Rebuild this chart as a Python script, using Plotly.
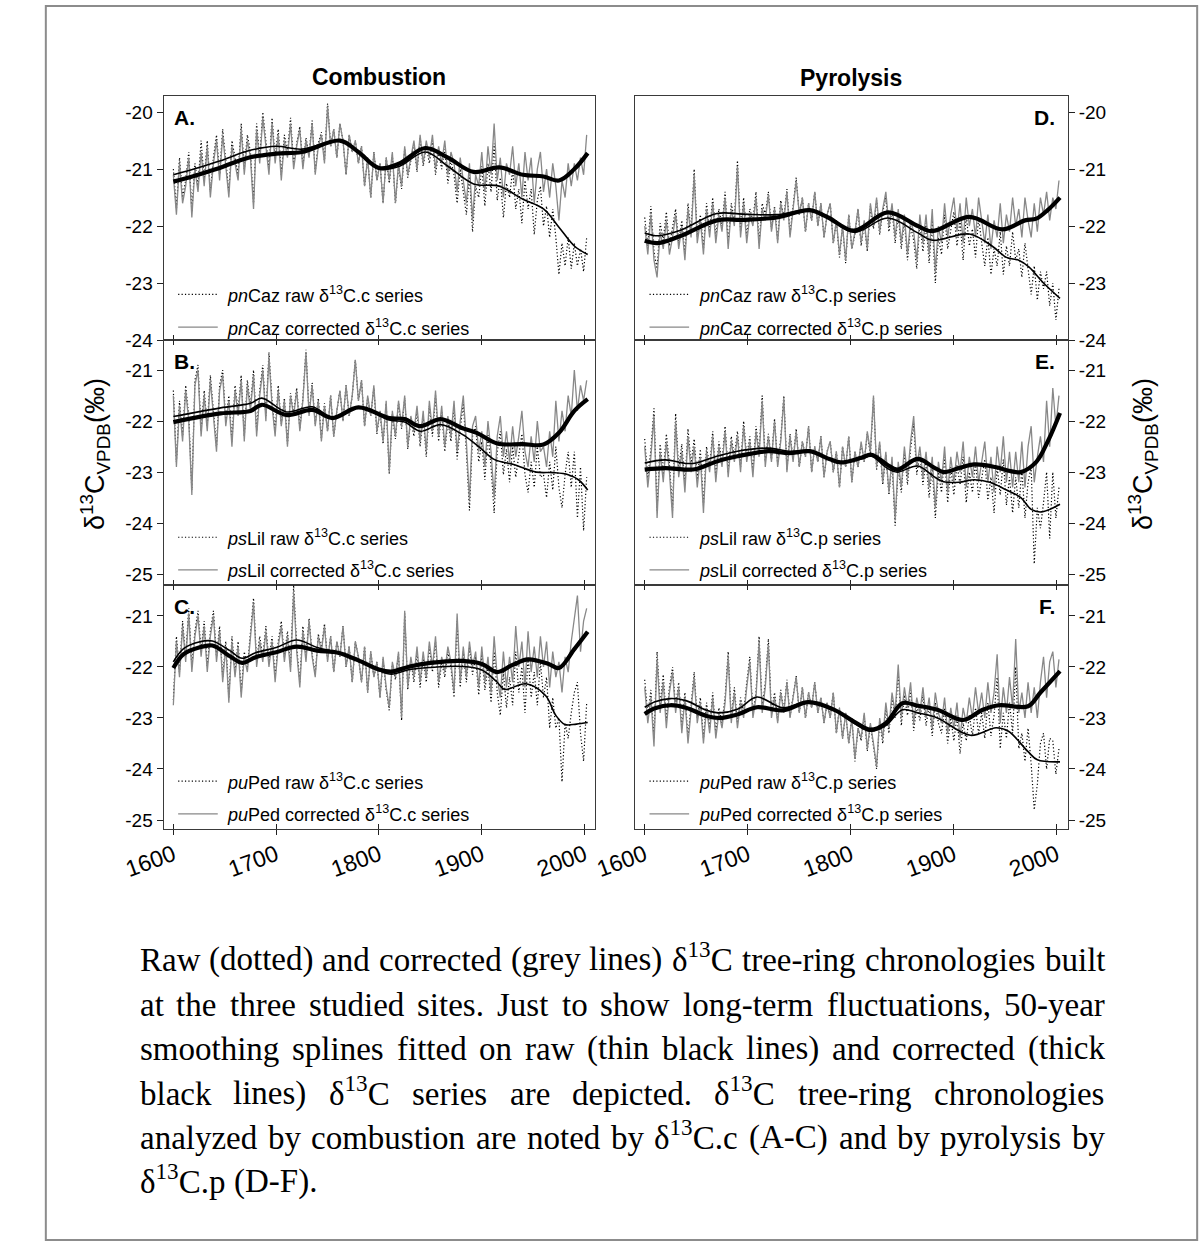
import plotly.graph_objects as go

W, H = 1202, 1257
SANS = "Liberation Sans, Arial, Helvetica, sans-serif"
SERIF = "Liberation Serif, Times New Roman, serif"

# Sampled years of the tree-ring chronologies
YEARS = list(range(1600, 2003, 3))

# ---------------- A: pnCaz, combustion ----------------
A_CORR = [
    -21.1, -21.8, -20.9, -21.6, -21.3, -20.8, -21.85, -21.0, -21.4, -20.7,
    -21.3, -20.6, -21.5, -20.9, -20.5, -21.2, -20.4, -21.0, -21.5, -20.6,
    -20.9, -21.2, -20.3, -21.1, -20.5, -20.8, -21.7, -20.3, -20.9, -20.1,
    -20.6, -21.1, -20.2, -20.9, -20.4, -21.2, -20.5, -20.8, -20.2, -21.0,
    -20.6, -20.3, -21.0, -20.5, -20.8, -20.2, -21.1, -20.6, -20.4, -20.9,
    -19.9, -20.6, -20.3, -20.8, -20.2, -20.5, -21.1, -20.4, -20.7, -20.5,
    -20.9, -20.6, -21.3, -20.8, -21.5, -20.7, -21.2, -20.9, -21.6, -20.8,
    -21.2, -20.7, -21.6, -20.9, -21.3, -20.6, -21.1, -20.8, -20.5, -21.0,
    -20.4, -20.9, -20.5, -20.8, -20.4, -21.0, -20.6, -20.9, -20.5, -21.1,
    -20.7, -20.9, -21.4, -20.8, -21.2, -21.6, -20.9, -21.9, -21.1, -21.3,
    -20.7, -21.4, -20.6, -21.1, -20.2, -21.2, -20.8, -21.5, -20.9, -21.1,
    -20.6, -21.3, -20.9, -21.5, -20.7, -21.2, -20.8, -21.6, -21.0, -20.7,
    -21.4, -21.0, -21.5, -20.9, -21.3, -21.9, -21.2, -21.5, -20.9, -21.3,
    -20.9, -21.2, -20.8, -21.1, -20.4,
]
A_RAW = [
    -21.0, -21.7, -20.8, -21.5, -21.2, -20.7, -21.75, -20.9, -21.3, -20.5,
    -21.2, -20.5, -21.4, -20.8, -20.4, -21.1, -20.3, -20.9, -21.4, -20.5,
    -20.8, -21.1, -20.2, -21.0, -20.4, -20.7, -21.6, -20.2, -20.8, -20.0,
    -20.5, -21.0, -20.1, -20.8, -20.3, -21.1, -20.4, -20.7, -20.1, -20.9,
    -20.55, -20.25, -20.95, -20.45, -20.75, -20.15, -21.05, -20.55, -20.35, -20.85,
    -19.85, -20.6, -20.3, -20.8, -20.2, -20.5, -21.1, -20.4, -20.7, -20.5,
    -20.9, -20.6, -21.3, -20.8, -21.5, -20.7, -21.2, -20.9, -21.6, -20.8,
    -21.25, -20.75, -21.6, -20.95, -21.35, -20.65, -21.15, -20.85, -20.55, -21.05,
    -20.45, -20.95, -20.6, -20.9, -20.5, -21.1, -20.7, -21.0, -20.65, -21.25,
    -20.85, -21.1, -21.6, -21.0, -21.4, -21.8, -21.1, -22.1, -21.3, -21.5,
    -20.95, -21.65, -20.9, -21.4, -20.55, -21.55, -21.15, -21.85, -21.25, -21.5,
    -21.0, -21.7, -21.35, -21.95, -21.2, -21.7, -21.35, -22.15, -21.55, -21.3,
    -22.0, -21.65, -22.2, -21.7, -22.2, -22.85, -22.3, -22.7, -22.2, -22.75,
    -22.3, -22.7, -22.4, -22.8, -22.2,
]
A_SC_YR = [1600, 1620, 1645, 1673, 1700, 1725, 1762, 1780, 1800, 1820, 1845, 1867, 1892, 1917, 1940, 1960, 1975, 1990, 2003]
A_SC = [-21.22, -21.12, -20.98, -20.8, -20.73, -20.7, -20.5, -20.7, -20.98, -20.9, -20.63, -20.8, -21.05, -20.97, -21.1, -21.13, -21.2, -21.0, -20.72]
A_SR_YR = [1600, 1620, 1645, 1673, 1700, 1725, 1762, 1780, 1800, 1820, 1845, 1867, 1892, 1917, 1940, 1960, 1975, 1990, 2003]
A_SR = [-21.1, -21.0, -20.86, -20.68, -20.6, -20.65, -20.5, -20.7, -21.0, -20.95, -20.7, -20.95, -21.26, -21.3, -21.53, -21.7, -22.02, -22.35, -22.5]

# ---------------- B: psLil, combustion ----------------
B_CORR = [
    -21.5, -22.9, -21.7, -22.4, -21.4, -22.0, -23.45, -21.3, -21.0, -22.3,
    -21.5, -22.2, -21.2, -21.9, -22.6, -21.4, -21.1, -22.1, -21.6, -22.5,
    -21.4, -21.9, -21.2, -22.4, -21.3, -21.8, -21.1, -22.3, -21.5, -21.0,
    -22.0, -20.75, -21.7, -22.3, -21.4, -22.1, -21.6, -22.5, -21.5, -21.9,
    -21.4, -22.2, -21.6, -20.65, -21.9, -21.3, -22.1, -21.6, -22.4, -21.7,
    -22.2, -21.5, -22.3, -21.8, -21.4, -22.0, -21.3, -21.9, -21.5, -20.8,
    -21.6, -21.2, -22.1, -21.5, -21.9, -21.3, -22.2, -21.8, -22.4, -21.6,
    -23.0, -21.8, -22.3, -21.6, -22.1, -21.5, -22.5, -21.9, -22.2, -21.7,
    -22.4, -21.8, -22.6, -21.6, -22.2, -21.4, -22.3, -21.7, -22.5, -21.9,
    -22.3, -21.6, -22.6, -22.0, -21.5, -22.4, -23.55, -22.1, -21.9, -22.6,
    -22.2, -22.9, -22.0, -22.6, -23.5, -22.3, -21.9, -22.7, -22.2, -22.8,
    -22.1, -22.7, -22.3, -21.8, -22.6, -22.9, -22.3, -22.8, -22.0, -22.6,
    -22.5, -22.9, -22.2, -22.7, -21.6, -22.4, -21.8, -22.2, -21.5, -21.9,
    -21.0, -21.8, -21.3, -21.6, -21.2,
]
B_RAW = [
    -21.4, -22.8, -21.6, -22.3, -21.3, -21.9, -23.35, -21.2, -20.9, -22.2,
    -21.4, -22.1, -21.1, -21.8, -22.5, -21.3, -21.0, -22.0, -21.5, -22.4,
    -21.3, -21.8, -21.1, -22.3, -21.2, -21.7, -21.0, -22.2, -21.4, -20.9,
    -21.9, -20.65, -21.6, -22.2, -21.3, -22.05, -21.55, -22.45, -21.45, -21.85,
    -21.35, -22.15, -21.55, -20.6, -21.85, -21.25, -22.05, -21.55, -22.35, -21.65,
    -22.2, -21.5, -22.3, -21.8, -21.4, -22.0, -21.3, -21.9, -21.5, -20.8,
    -21.6, -21.2, -22.1, -21.55, -21.9, -21.35, -22.25, -21.8, -22.45, -21.65,
    -23.05, -21.85, -22.35, -21.65, -22.15, -21.55, -22.55, -21.95, -22.3, -21.8,
    -22.5, -21.9, -22.7, -21.7, -22.3, -21.5, -22.4, -21.8, -22.6, -22.0,
    -22.4, -21.7, -22.75, -22.15, -21.65, -22.6, -23.75, -22.3, -22.1, -22.8,
    -22.4, -23.15, -22.25, -22.9, -23.8, -22.6, -22.2, -23.05, -22.55, -23.2,
    -22.5, -23.1, -22.7, -22.25, -23.05, -23.4, -22.8, -23.3, -22.5, -23.1,
    -23.05, -23.5, -22.8, -23.35, -22.5, -23.3, -23.7, -23.05, -22.6, -23.3,
    -22.6, -23.9, -22.9, -24.15, -23.1,
]
B_SC_YR = [1600, 1646, 1675, 1686, 1710, 1735, 1755, 1780, 1810, 1825, 1840, 1860, 1880, 1895, 1915, 1940, 1960, 1975, 1990, 2003]
B_SC = [-22.02, -21.85, -21.8, -21.68, -21.88, -21.78, -21.94, -21.73, -21.94, -21.96, -22.1, -21.96, -22.13, -22.23, -22.44, -22.45, -22.46, -22.23, -21.8, -21.57]
B_SR_YR = [1600, 1646, 1675, 1686, 1710, 1735, 1755, 1780, 1810, 1825, 1840, 1860, 1881, 1897, 1912, 1931, 1953, 1969, 1984, 1994, 2003]
B_SR = [-21.91, -21.74, -21.65, -21.55, -21.82, -21.72, -21.93, -21.73, -21.98, -22.02, -22.2, -22.07, -22.26, -22.5, -22.75, -22.85, -23.0, -23.01, -23.05, -23.15, -23.35]

# ---------------- C: puPed, combustion ----------------
C_CORR = [
    -22.75, -21.5, -22.2, -21.2, -21.9, -20.95, -22.1, -21.4, -21.0, -21.8,
    -21.2, -22.1, -21.4, -21.0, -21.9, -21.3, -22.3, -21.6, -22.7, -21.5,
    -22.2, -21.6, -22.6, -21.8, -22.1, -21.4, -20.75, -22.0, -21.5, -21.9,
    -21.3, -22.0, -21.5, -22.3, -21.6, -21.2, -21.9, -21.4, -22.1, -20.55,
    -21.7, -22.4, -21.3, -21.9, -21.1, -21.8, -22.2, -21.4, -21.7, -21.2,
    -21.9, -21.4, -22.1, -21.5, -21.8, -21.2, -22.0, -21.6, -22.3, -21.5,
    -21.8, -22.3, -21.6, -22.5, -21.7, -22.2, -21.9, -22.6, -21.8, -22.4,
    -22.8, -21.9, -22.2, -21.7, -23.0, -20.9, -22.4, -21.8, -22.2, -21.6,
    -22.3, -21.7, -22.2, -21.5, -22.0, -21.4, -22.3, -21.8, -22.1, -21.6,
    -21.9, -22.5, -20.95, -22.3, -21.6, -22.2, -21.5, -22.0, -21.7, -22.4,
    -21.6, -22.3, -21.8, -22.5, -21.4, -22.2, -22.6, -21.7, -22.4, -21.8,
    -22.3, -21.2, -22.0, -21.5, -22.4, -21.3, -22.1, -21.6, -22.2, -21.4,
    -22.0, -21.5, -22.4, -21.7, -22.2, -21.9, -22.5, -21.8, -22.1, -21.5,
    -21.0, -20.6, -21.7, -21.1, -20.85,
]
C_RAW = [
    -22.65, -21.4, -22.1, -21.1, -21.8, -20.85, -22.0, -21.3, -20.9, -21.7,
    -21.1, -22.0, -21.3, -20.9, -21.8, -21.2, -22.2, -21.5, -22.6, -21.4,
    -22.1, -21.5, -22.5, -21.7, -22.0, -21.3, -20.65, -21.9, -21.4, -21.8,
    -21.2, -21.9, -21.4, -22.2, -21.5, -21.1, -21.8, -21.3, -22.0, -20.4,
    -21.6, -22.3, -21.2, -21.8, -21.05, -21.75, -22.15, -21.35, -21.65, -21.15,
    -21.85, -21.4, -22.1, -21.5, -21.8, -21.2, -22.0, -21.6, -22.3, -21.5,
    -21.8, -22.3, -21.6, -22.5, -21.7, -22.2, -21.9, -22.6, -21.85, -22.45,
    -22.85, -21.95, -22.25, -21.75, -23.05, -20.95, -22.45, -21.85, -22.3, -21.7,
    -22.4, -21.8, -22.3, -21.6, -22.1, -21.5, -22.4, -21.9, -22.2, -21.7,
    -22.0, -22.6, -21.1, -22.4, -21.7, -22.3, -21.6, -22.15, -21.8, -22.55,
    -21.75, -22.45, -22.0, -22.7, -21.7, -22.5, -22.95, -22.1, -22.8, -22.2,
    -22.75, -21.7, -22.5, -22.0, -22.9, -21.8, -22.6, -22.1, -22.75, -21.9,
    -22.6, -22.2, -23.2, -22.6, -23.2, -23.0, -24.25, -23.1, -23.4, -22.9,
    -22.5, -22.3, -23.3, -23.85, -22.7,
]
C_SC_YR = [1600, 1610, 1625, 1638, 1655, 1667, 1680, 1700, 1720, 1740, 1760, 1780, 1800, 1812, 1830, 1850, 1880, 1900, 1915, 1930, 1945, 1965, 1975, 1990, 2003]
C_SC = [-22.02, -21.75, -21.62, -21.58, -21.79, -21.92, -21.81, -21.71, -21.6, -21.68, -21.72, -21.87, -22.05, -22.09, -21.99, -21.92, -21.88, -21.94, -22.1, -21.96, -21.85, -21.94, -22.02, -21.65, -21.31]
C_SR_YR = [1600, 1610, 1625, 1638, 1655, 1667, 1680, 1700, 1720, 1740, 1760, 1780, 1800, 1812, 1830, 1850, 1880, 1900, 1915, 1922, 1943, 1962, 1972, 1981, 1992, 2003]
C_SR = [-21.9, -21.64, -21.51, -21.49, -21.68, -21.83, -21.72, -21.62, -21.47, -21.62, -21.72, -21.87, -22.07, -22.14, -22.05, -22.01, -21.99, -22.06, -22.3, -22.44, -22.33, -22.56, -22.95, -23.13, -23.12, -23.09]

# ---------------- D: pnCaz, pyrolysis ----------------
D_CORR = [
    -22.0, -22.5, -21.8, -22.6, -22.9, -22.1, -22.4, -21.9, -22.5, -22.2,
    -21.8, -22.4, -22.0, -22.6, -21.7, -22.2, -21.1, -22.3, -21.9, -22.5,
    -21.7, -22.2, -21.6, -22.3, -21.8, -22.1, -21.5, -22.4, -21.7, -22.0,
    -20.95, -22.2, -21.6, -22.3, -21.8, -22.0, -21.5, -22.4, -21.7, -21.9,
    -21.45, -22.1, -21.7, -22.3, -21.6, -21.9, -21.4, -22.2, -21.7, -21.2,
    -21.8, -21.5, -22.1, -21.6, -21.9, -21.4, -22.0, -21.6, -22.2, -21.8,
    -21.6, -22.3, -21.9, -22.5, -22.0, -22.6, -21.8, -22.4, -22.1, -21.7,
    -22.3, -21.9, -22.4, -21.6, -22.0, -21.5, -22.1, -21.7, -21.4, -22.0,
    -21.6, -22.2, -21.7, -22.3, -21.8, -22.5, -21.9, -22.1, -22.6, -21.8,
    -22.3, -21.8, -22.5, -21.7, -22.8, -22.0, -22.3, -21.6, -22.2, -21.8,
    -21.5, -22.1, -21.6, -22.3, -21.5, -22.0, -21.7, -22.2, -21.5, -21.9,
    -22.3, -21.8, -22.4, -21.9, -22.2, -21.6, -22.3, -21.8, -22.1, -21.5,
    -22.0, -21.7, -22.2, -21.5, -21.9, -22.2, -21.6, -22.1, -21.5, -21.8,
    -21.4, -21.9, -21.5, -21.7, -21.2,
]
D_RAW = [
    -21.85, -22.35, -21.65, -22.45, -22.75, -21.95, -22.25, -21.75, -22.35, -22.05,
    -21.7, -22.3, -21.9, -22.5, -21.6, -22.1, -21.0, -22.2, -21.8, -22.4,
    -21.6, -22.1, -21.5, -22.2, -21.7, -22.0, -21.4, -22.3, -21.6, -21.9,
    -20.85, -22.1, -21.5, -22.2, -21.7, -21.9, -21.4, -22.3, -21.6, -21.8,
    -21.4, -22.05, -21.65, -22.25, -21.55, -21.85, -21.35, -22.15, -21.65, -21.15,
    -21.8, -21.5, -22.1, -21.6, -21.9, -21.4, -22.0, -21.6, -22.2, -21.8,
    -21.6, -22.3, -21.9, -22.55, -22.0, -22.65, -21.8, -22.4, -22.15, -21.7,
    -22.35, -21.95, -22.45, -21.65, -22.05, -21.55, -22.15, -21.75, -21.5, -22.1,
    -21.7, -22.3, -21.8, -22.4, -21.9, -22.6, -22.0, -22.25, -22.75, -21.95,
    -22.45, -21.95, -22.65, -21.9, -23.0, -22.2, -22.5, -21.8, -22.4, -22.05,
    -21.75, -22.35, -21.9, -22.6, -21.8, -22.35, -22.05, -22.55, -21.85, -22.3,
    -22.7, -22.2, -22.85, -22.4, -22.7, -22.1, -22.85, -22.35, -22.7, -22.1,
    -22.6, -22.4, -22.9, -22.3, -22.8, -23.2, -22.7, -23.3, -22.8, -23.1,
    -22.8, -23.4, -23.0, -23.65, -23.1,
]
D_SC_YR = [1600, 1613, 1634, 1670, 1695, 1728, 1760, 1778, 1803, 1836, 1865, 1879, 1915, 1947, 1969, 1980, 1991, 2003]
D_SC = [-22.26, -22.3, -22.18, -21.9, -21.89, -21.85, -21.72, -21.85, -22.08, -21.76, -22.0, -22.09, -21.84, -22.06, -21.9, -21.87, -21.72, -21.5]
D_SR_YR = [1600, 1613, 1634, 1670, 1695, 1728, 1760, 1778, 1803, 1836, 1865, 1879, 1915, 1937, 1951, 1963, 1973, 1987, 2003]
D_SR = [-22.12, -22.17, -22.08, -21.78, -21.79, -21.8, -21.72, -21.86, -22.11, -21.86, -22.12, -22.25, -22.14, -22.35, -22.55, -22.6, -22.72, -23.0, -23.27]

# ---------------- E: psLil, pyrolysis ----------------
E_CORR = [
    -22.5, -23.3, -22.7, -21.9, -23.9, -22.6, -23.2, -22.4, -23.0, -23.9,
    -22.0, -23.1, -22.6, -23.4, -22.3, -23.0, -22.5, -23.3, -22.7, -23.8,
    -22.6, -23.0, -22.3, -23.2, -22.5, -22.9, -22.2, -23.1, -22.4, -22.8,
    -22.3, -23.0, -22.1, -22.8, -22.4, -23.1, -22.2, -22.7, -21.6, -22.9,
    -22.3, -22.8, -22.0, -22.9, -22.4, -21.55, -23.0, -22.3, -22.8, -22.2,
    -22.9, -22.4, -22.7, -22.1, -23.0, -22.5, -22.8, -22.3, -23.1, -22.6,
    -22.4, -23.0, -22.6, -23.3, -22.5, -22.9, -22.3, -23.2, -22.6, -22.9,
    -22.4, -22.8, -22.2, -22.6, -21.5, -22.9, -22.4, -23.2, -22.6, -23.4,
    -22.7, -23.95, -22.8, -23.3, -22.5, -23.1, -22.4, -21.9, -22.9, -22.5,
    -23.1, -22.6, -23.3, -22.7, -23.7, -22.8, -23.2, -22.5, -23.4, -22.7,
    -23.2, -22.6, -23.0, -22.4, -23.3, -22.7, -23.1, -22.5, -23.2, -22.8,
    -22.4, -23.2, -22.7, -23.4, -22.5, -23.0, -22.3, -23.2, -22.6, -23.3,
    -22.6, -23.2, -22.4, -23.3, -22.5, -22.1, -23.2, -22.7, -22.3, -22.8,
    -21.6, -22.5, -21.35, -22.1, -21.5,
]
E_RAW = [
    -22.35, -23.15, -22.55, -21.75, -23.75, -22.45, -23.05, -22.25, -22.85, -23.75,
    -21.85, -22.95, -22.45, -23.25, -22.15, -22.85, -22.35, -23.15, -22.55, -23.65,
    -22.5, -22.9, -22.2, -23.1, -22.4, -22.8, -22.1, -23.0, -22.3, -22.7,
    -22.2, -22.9, -22.0, -22.7, -22.3, -23.0, -22.1, -22.6, -21.5, -22.8,
    -22.25, -22.75, -21.95, -22.85, -22.35, -21.5, -22.95, -22.25, -22.75, -22.15,
    -22.9, -22.4, -22.7, -22.1, -23.0, -22.5, -22.8, -22.3, -23.1, -22.6,
    -22.4, -23.0, -22.6, -23.3, -22.5, -22.9, -22.3, -23.2, -22.6, -22.9,
    -22.45, -22.8, -22.25, -22.65, -21.55, -22.95, -22.45, -23.25, -22.65, -23.45,
    -22.8, -24.05, -22.9, -23.4, -22.6, -23.25, -22.55, -22.05, -23.05, -22.65,
    -23.25, -22.75, -23.5, -22.9, -23.9, -23.0, -23.4, -22.7, -23.6, -22.9,
    -23.45, -22.85, -23.25, -22.7, -23.6, -23.0, -23.4, -22.8, -23.5, -23.1,
    -22.75, -23.55, -23.1, -23.8, -22.9, -23.45, -22.75, -23.65, -23.1, -23.8,
    -23.1, -23.7, -22.95, -23.9, -23.2, -22.9, -24.8, -23.7, -24.1, -23.6,
    -23.0, -24.3, -23.0, -23.9, -23.3,
]
E_SC_YR = [1600, 1620, 1640, 1650, 1670, 1690, 1720, 1740, 1760, 1780, 1790, 1810, 1820, 1835, 1845, 1865, 1880, 1890, 1905, 1920, 1940, 1955, 1965, 1980, 1992, 2003]
E_SC = [-22.95, -22.92, -22.95, -22.94, -22.79, -22.69, -22.59, -22.63, -22.59, -22.75, -22.81, -22.72, -22.66, -22.85, -22.95, -22.74, -22.9, -23.0, -22.92, -22.85, -22.9, -22.98, -23.0, -22.8, -22.36, -21.84]
E_SR_YR = [1600, 1620, 1640, 1650, 1670, 1690, 1720, 1740, 1760, 1780, 1790, 1810, 1820, 1835, 1845, 1865, 1880, 1890, 1905, 1920, 1935, 1950, 1965, 1975, 1985, 2003]
E_SR = [-22.82, -22.76, -22.83, -22.82, -22.69, -22.59, -22.53, -22.59, -22.59, -22.76, -22.82, -22.74, -22.69, -22.92, -23.0, -22.88, -23.08, -23.19, -23.2, -23.15, -23.2, -23.34, -23.5, -23.73, -23.78, -23.63]

# ---------------- F: puPed, pyrolysis ----------------
F_CORR = [
    -22.4, -23.1, -22.6, -23.56, -21.85, -22.9, -22.3, -23.2, -22.5, -22.1,
    -22.9, -22.4, -23.3, -22.6, -23.5, -22.8, -22.2, -23.1, -22.7, -23.5,
    -22.8, -23.3, -22.6, -23.4, -22.9, -23.2, -22.7, -21.8, -23.1, -22.5,
    -23.2, -22.7, -23.0, -22.4, -21.9, -23.0, -22.6, -21.52, -22.9, -22.4,
    -21.55, -23.0, -22.6, -23.1, -22.5, -22.9, -22.3, -23.0, -22.6, -22.2,
    -22.9, -22.4, -23.0, -22.5, -22.8, -22.3, -22.9, -22.6, -23.1, -22.7,
    -23.0, -22.5, -23.3, -22.8, -23.4, -22.9, -23.5, -23.0, -23.8, -23.2,
    -23.4, -22.9, -23.6, -23.1, -23.5, -23.95, -23.0, -23.4, -22.7, -23.2,
    -22.5, -22.9, -21.95, -23.0, -22.4, -22.8, -22.3, -23.1, -22.6, -22.9,
    -22.4, -23.0, -22.6, -23.2, -22.5, -22.9, -23.1, -22.6, -23.3, -22.8,
    -23.2, -22.7, -23.4, -22.8, -23.1, -22.6, -23.0, -22.4, -22.9, -22.5,
    -23.0, -22.3, -22.9, -22.5, -21.75, -23.1, -22.4, -22.9, -22.2, -22.8,
    -21.45, -22.9, -22.5, -23.0, -22.3, -22.9, -22.4, -23.0, -22.3, -21.8,
    -22.6, -21.9, -21.7, -22.4, -21.85,
]
F_RAW = [
    -22.25, -22.95, -22.45, -23.4, -21.7, -22.75, -22.15, -23.05, -22.4, -22.0,
    -22.8, -22.3, -23.2, -22.5, -23.4, -22.7, -22.1, -23.0, -22.6, -23.4,
    -22.7, -23.2, -22.5, -23.3, -22.8, -23.1, -22.6, -21.7, -23.0, -22.4,
    -23.1, -22.6, -22.9, -22.3, -21.8, -22.9, -22.5, -21.4, -22.8, -22.3,
    -21.45, -22.9, -22.5, -23.05, -22.45, -22.85, -22.25, -22.97, -22.58, -22.18,
    -22.9, -22.4, -23.0, -22.5, -22.8, -22.3, -22.9, -22.6, -23.1, -22.7,
    -23.0, -22.5, -23.3, -22.8, -23.4, -22.9, -23.5, -23.0, -23.85, -23.2,
    -23.45, -22.95, -23.65, -23.15, -23.55, -24.0, -23.05, -23.5, -22.8, -23.3,
    -22.6, -23.0, -22.1, -23.15, -22.55, -22.95, -22.45, -23.25, -22.75, -23.05,
    -22.55, -23.15, -22.75, -23.35, -22.7, -23.1, -23.3, -22.8, -23.5, -23.0,
    -23.45, -22.95, -23.7, -23.1, -23.45, -22.95, -23.35, -22.8, -23.3, -22.9,
    -23.4, -22.7, -23.35, -22.95, -22.2, -23.6, -22.9, -23.4, -22.7, -23.3,
    -22.0, -23.6, -23.3, -23.85, -23.2, -23.9, -24.8, -24.3, -23.5, -23.3,
    -24.0, -23.4, -23.45, -24.1, -23.6,
]
F_SC_YR = [1600, 1610, 1625, 1640, 1660, 1672, 1690, 1709, 1734, 1759, 1784, 1803, 1819, 1834, 1850, 1865, 1884, 1909, 1928, 1944, 1972, 1984, 2003]
F_SC = [-22.92, -22.81, -22.75, -22.8, -22.96, -23.0, -22.93, -22.79, -22.85, -22.69, -22.84, -23.07, -23.23, -23.1, -22.71, -22.76, -22.84, -23.04, -22.84, -22.75, -22.77, -22.5, -22.08]
F_SR_YR = [1600, 1610, 1625, 1640, 1660, 1672, 1690, 1709, 1734, 1759, 1784, 1803, 1819, 1834, 1850, 1865, 1884, 1916, 1941, 1953, 1972, 1981, 2003]
F_SR = [-22.79, -22.68, -22.62, -22.66, -22.85, -22.9, -22.83, -22.59, -22.8, -22.68, -22.84, -23.1, -23.26, -23.15, -22.84, -22.9, -23.0, -23.34, -23.19, -23.26, -23.66, -23.82, -23.86]

# Axis settings
X_RANGE = [1590.6, 2010.5]
X_TICKS = [1600, 1700, 1800, 1900, 2000]
Y_RANGES = [[-24.0, -19.72], [-25.21, -20.41], [-25.17, -20.39]]
Y_TICKS = [[-20, -21, -22, -23, -24], [-21, -22, -23, -24, -25], [-21, -22, -23, -24, -25]]
COL_PX = {"left": (127, 574), "right": (615, 1063)}
ROW_PX = [(97, 343), (343, 590), (590, 836)]
KEY_ROWS_PX = [(297, 330), (542, 575), (788, 821)]

PANELS = [
    dict(letter="A", col="left", row=0, site=("pn", "Caz"), m="c", corr=A_CORR, raw=A_RAW,
         sc=(A_SC_YR, A_SC), sr=(A_SR_YR, A_SR)),
    dict(letter="B", col="left", row=1, site=("ps", "Lil"), m="c", corr=B_CORR, raw=B_RAW,
         sc=(B_SC_YR, B_SC), sr=(B_SR_YR, B_SR)),
    dict(letter="C", col="left", row=2, site=("pu", "Ped"), m="c", corr=C_CORR, raw=C_RAW,
         sc=(C_SC_YR, C_SC), sr=(C_SR_YR, C_SR)),
    dict(letter="D", col="right", row=0, site=("pn", "Caz"), m="p", corr=D_CORR, raw=D_RAW,
         sc=(D_SC_YR, D_SC), sr=(D_SR_YR, D_SR)),
    dict(letter="E", col="right", row=1, site=("ps", "Lil"), m="p", corr=E_CORR, raw=E_RAW,
         sc=(E_SC_YR, E_SC), sr=(E_SR_YR, E_SR)),
    dict(letter="F", col="right", row=2, site=("pu", "Ped"), m="p", corr=F_CORR, raw=F_RAW,
         sc=(F_SC_YR, F_SC), sr=(F_SR_YR, F_SR)),
]

RAW_LINE = dict(color="black", width=1.2, dash="1.2px,2.2px")
COR_LINE = dict(color="#888888", width=1.3)


def px(x):
    return x / W


def py(y):
    return 1 - y / H


AX_LINE = "#3a3a3a"
fig = go.Figure()
layout = dict(
    width=W, height=H, margin=dict(l=0, r=0, t=0, b=0),
    paper_bgcolor="white", plot_bgcolor="white", showlegend=False,
    font=dict(family=SANS, color="black"),
)
annotations = []
shapes = []

for i, p in enumerate(PANELS, start=1):
    xa, ya = f"x{i}", f"y{i}"
    suffix = "" if i == 1 else str(i)
    c0, c1 = COL_PX[p["col"]]
    r0, r1 = ROW_PX[p["row"]]
    italic, rest = p["site"]
    label_raw = f"<i>{italic}</i>{rest} raw δ<sup>13</sup>C.{p['m']} series"
    label_cor = f"<i>{italic}</i>{rest} corrected δ<sup>13</sup>C.{p['m']} series"

    fig.add_trace(go.Scatter(x=YEARS, y=p["raw"], mode="lines", name=label_raw,
                             line=RAW_LINE, xaxis=xa, yaxis=ya))
    fig.add_trace(go.Scatter(x=YEARS, y=p["corr"], mode="lines", name=label_cor,
                             line=COR_LINE, xaxis=xa, yaxis=ya))
    fig.add_trace(go.Scatter(
        x=p["sr"][0], y=p["sr"][1], mode="lines", name="raw spline",
        line=dict(color="black", width=1.6, shape="spline", smoothing=1.0),
        xaxis=xa, yaxis=ya))
    fig.add_trace(go.Scatter(
        x=p["sc"][0], y=p["sc"][1], mode="lines", name="corrected spline",
        line=dict(color="black", width=4.2, shape="spline", smoothing=1.0),
        xaxis=xa, yaxis=ya))

    bottom = p["row"] == 2
    layout[f"xaxis{suffix}"] = dict(
        domain=[px(c0), px(c1)], range=X_RANGE, anchor=ya,
        tickmode="array", tickvals=X_TICKS, ticks="inside", ticklen=5, tickwidth=1.2,
        tickcolor="#222", showline=True, linecolor=AX_LINE, linewidth=1.3,
        mirror=True if p["row"] == 0 else "ticks",
        showgrid=False, zeroline=False, showticklabels=bottom,
        tickangle=-20, tickfont=dict(family=SANS, size=23, color="black"),
        ticklabelstandoff=3,
    )
    y0, y1 = Y_RANGES[p["row"]]
    layout[f"yaxis{suffix}"] = dict(
        domain=[py(r1), py(r0)], range=[y0, y1], anchor=xa,
        side="left" if p["col"] == "left" else "right",
        tickmode="array", tickvals=Y_TICKS[p["row"]],
        ticktext=[str(v) for v in Y_TICKS[p["row"]]],
        ticks="outside", ticklen=6, tickwidth=1.2, tickcolor="#222",
        showline=True, linecolor=AX_LINE, linewidth=1.3, mirror=True,
        showgrid=False, zeroline=False,
        tickfont=dict(family=SANS, size=19, color="black"),
    )

    # in-panel key: line sample plus label for the raw and corrected series
    for (row_y, style, text) in zip(KEY_ROWS_PX[p["row"]], (RAW_LINE, COR_LINE),
                                    (label_raw, label_cor)):
        shapes.append(dict(type="line", xref="paper", yref="paper",
                           x0=px(c0 + 15), x1=px(c0 + 56), y0=py(row_y), y1=py(row_y),
                           line=style))
        annotations.append(dict(x=px(c0 + 65), y=py(row_y), xref="paper", yref="paper",
                                xanchor="left", yanchor="middle", showarrow=False,
                                borderpad=0, text=text,
                                font=dict(family=SANS, size=18, color="black")))

    # panel letter
    if p["col"] == "left":
        annotations.append(dict(x=px(c0 + 9), y=py(r0 + 22), xref="paper", yref="paper",
                                xanchor="left", yanchor="middle", showarrow=False,
                                text=f"<b>{p['letter']}.</b>",
                                font=dict(family=SANS, size=21, color="black")))
    else:
        annotations.append(dict(x=px(c1 - 11), y=py(r0 + 22), xref="paper", yref="paper",
                                xanchor="right", yanchor="middle", showarrow=False,
                                text=f"<b>{p['letter']}.</b>",
                                font=dict(family=SANS, size=21, color="black")))

# extra axes giving the bottom year ticks their outer half
for k, base in ((7, 3), (8, 6)):
    fig.add_trace(go.Scatter(x=[], y=[], xaxis=f"x{k}", yaxis=f"y{base}", showlegend=False))
    layout[f"xaxis{k}"] = dict(
        overlaying=f"x{base}", anchor=f"y{base}", side="bottom", range=X_RANGE,
        tickmode="array", tickvals=X_TICKS, ticks="outside", ticklen=5, tickwidth=1.2,
        tickcolor="#222", showline=False, showgrid=False, zeroline=False,
        showticklabels=False,
    )

# column headings
annotations.append(dict(x=px(350), y=py(78), xref="paper", yref="paper", showarrow=False,
                        xanchor="center", yanchor="middle",
                        text="<b>Combustion</b>", font=dict(family=SANS, size=23, color="black")))
annotations.append(dict(x=px(839), y=py(79), xref="paper", yref="paper", showarrow=False,
                        xanchor="center", yanchor="middle",
                        text="<b>Pyrolysis</b>", font=dict(family=SANS, size=23, color="black")))

# y-axis titles
Y_TITLE = "δ<sup>13</sup>C<sub>VPDB</sub>(‰)"
for xp in (56, 1141):
    annotations.append(dict(x=px(xp), y=py(458), xref="paper", yref="paper", showarrow=False,
                            xanchor="center", yanchor="middle", textangle=-90, text=Y_TITLE,
                            font=dict(family=SANS, size=27, color="black")))

# caption set as justified serif text
CAPTION_LINES = [
    "Raw (dotted) and corrected (grey lines) δ<sup>13</sup>C tree-ring chronologies built",
    "at the three studied sites. Just to show long-term fluctuations, 50-year",
    "smoothing splines fitted on raw (thin black lines) and corrected (thick",
    "black lines) δ<sup>13</sup>C series are depicted. δ<sup>13</sup>C tree-ring chronologies",
    "analyzed by combustion are noted by δ<sup>13</sup>C.c (A-C) and by pyrolysis by",
    "δ<sup>13</sup>C.p (D-F).",
]
CAP_SIZE = 33
CAP_LEFT, CAP_RIGHT = 101, 1101
CAP_BASE0, CAP_STEP = 979, 44.8
WIDTH_FUDGE = 1.04

SERIF_W = {
    " ": 250, "a": 444, "b": 500, "c": 444, "d": 500, "e": 444, "f": 333, "g": 500,
    "h": 500, "i": 278, "j": 278, "k": 500, "l": 278, "m": 778, "n": 500, "o": 500,
    "p": 500, "q": 500, "r": 333, "s": 389, "t": 278, "u": 500, "v": 500, "w": 722,
    "x": 500, "y": 500, "z": 444, "A": 722, "B": 667, "C": 667, "D": 722, "E": 611,
    "F": 556, "J": 389, "R": 667, "(": 333, ")": 333, "-": 333, ".": 250, ",": 250,
    "δ": 500,
}


def serif_width(markup, size):
    total, scale, k = 0.0, 1.0, 0
    while k < len(markup):
        if markup.startswith("<sup>", k):
            scale, k = 0.7, k + 5
            continue
        if markup.startswith("</sup>", k):
            scale, k = 1.0, k + 6
            continue
        total += SERIF_W.get(markup[k], 500) * scale
        k += 1
    return total / 1000.0 * size * WIDTH_FUDGE


for li, line in enumerate(CAPTION_LINES):
    base = CAP_BASE0 + li * CAP_STEP
    words = line.split(" ")
    widths = [serif_width(w, CAP_SIZE) for w in words]
    if li == len(CAPTION_LINES) - 1:
        gap = SERIF_W[" "] / 1000.0 * CAP_SIZE
    else:
        gap = (CAP_RIGHT - CAP_LEFT - sum(widths)) / (len(words) - 1)
    xcur = CAP_LEFT
    for w, wd in zip(words, widths):
        annotations.append(dict(x=px(xcur), y=py(base + 9), xref="paper", yref="paper",
                                xanchor="left", yanchor="bottom", showarrow=False,
                                borderpad=0, text=w,
                                font=dict(family=SERIF, size=CAP_SIZE, color="black")))
        xcur += wd + gap

layout["annotations"] = annotations
shapes.append(dict(type="rect", xref="paper", yref="paper",
                   x0=px(5), x1=px(1197), y0=py(1251), y1=py(6),
                   line=dict(color="#8c8c8c", width=2), fillcolor="rgba(0,0,0,0)"))
layout["shapes"] = shapes

fig.update_layout(**layout)
fig.write_html("out.html", config={"displayModeBar": False})
